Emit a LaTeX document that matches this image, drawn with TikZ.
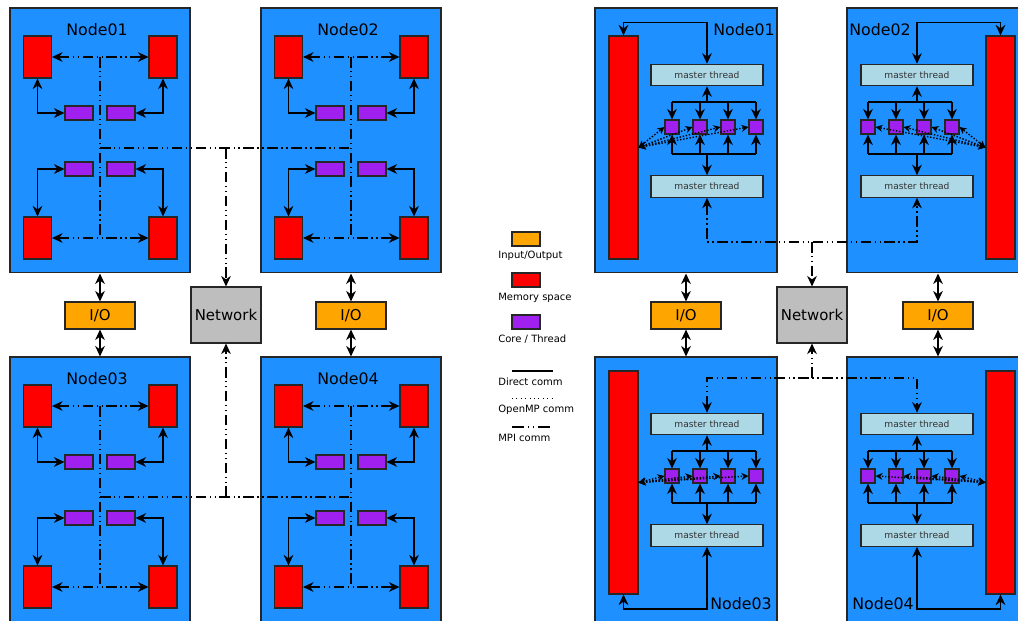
\documentclass[tikz,border=0pt]{standalone}
\usepackage{fontspec}
\setmainfont{DejaVu Sans}
\usepackage{tikz}
\usetikzlibrary{positioning,shapes,arrows.meta,calc}

\definecolor{nodeblue}{HTML}{1E90FF}
\definecolor{memred}{HTML}{FF0000}
\definecolor{corepurple}{HTML}{A020F0}
\definecolor{iogold}{HTML}{FFA500}
\definecolor{netgray}{HTML}{BEBEBE}
\definecolor{masterblue}{HTML}{ADD8E6}

\begin{document}
\begin{tikzpicture}[x=0.02cm, y=-0.02cm,
	>={Stealth[length=6pt,width=5.5pt]},
	box/.style={draw=black!85, line width=0.6pt, inner sep=0pt, rectangle},
	hostbox/.style={box, fill=nodeblue, minimum width=3.6cm, minimum height=5.3cm},
	hostboxR/.style={box, fill=nodeblue, minimum width=3.64cm, minimum height=5.3cm},
	mem/.style={box, fill=memred, minimum width=0.56cm, minimum height=0.84cm},
	memtall/.style={box, fill=memred, minimum width=0.58cm, minimum height=4.46cm},
	core/.style={box, fill=corepurple, minimum width=0.56cm, minimum height=0.28cm},
	thread/.style={box, fill=corepurple, minimum width=0.28cm, minimum height=0.28cm},
	master/.style={box, fill=masterblue, minimum width=2.24cm, minimum height=0.43cm, font=\fontsize{5.2}{6}\selectfont, text=black!80},
	io/.style={box, fill=iogold, minimum width=1.4cm, minimum height=0.54cm, font=\fontsize{8.5}{9}\selectfont},
	net/.style={box, fill=netgray, minimum width=1.4cm, minimum height=1.12cm, font=\fontsize{8.5}{9}\selectfont},
	title/.style={inner sep=0pt, font=\fontsize{9}{10}\selectfont},
	legtext/.style={inner sep=0pt, anchor=west, font=\fontsize{5.7}{6}\selectfont},
	direct/.style={draw=black, line width=0.85pt},
	omp/.style={draw=black, line width=0.8pt, densely dotted, >={Stealth[length=4pt,width=4pt,open]}},
	mpi/.style={draw=black, line width=0.8pt, dash pattern=on 6pt off 2pt on 0.8pt off 2pt on 0.8pt off 2pt}]

	\useasboundingbox (0,0) rectangle (1018,621);

	\foreach \n/\ox/\oy in {1/0/0,2/251/0,3/0/349,4/251/349}{
		\begin{scope}[shift={(\ox,\oy)}]
		\node[hostbox] (lhost\n) at (100,140.5) {};
		\node[title] (ltitle\n) at (97,30) {Node0\n};
		\node[mem] (lma\n) at (37.5,57) {};
		\node[mem] (lmb\n) at (163,57) {};
		\node[mem] (lmc\n) at (37.5,238) {};
		\node[mem] (lmd\n) at (163,238) {};
		\node[core] (lca\n) at (79,113) {};
		\node[core] (lcb\n) at (121,113) {};
		\node[core] (lcc\n) at (79,169) {};
		\node[core] (lcd\n) at (121,169) {};
		\coordinate (ltop\n) at (100,57);
		\coordinate (lmid\n) at (100,148);
		\coordinate (lbot\n) at (100,238);

		\draw[direct,<->] (lma\n.south) |- (lca\n.west);
		\draw[direct,<->] (lmb\n.south) |- (lcb\n.east);
		\draw[direct,<->] (lmc\n.north) |- (lcc\n.west);
		\draw[direct,<->] (lmd\n.north) |- (lcd\n.east);

		\draw[mpi] (ltop\n) -- (lbot\n);
		\draw[mpi,<->] (lma\n.east) -- (lmb\n.west);
		\draw[mpi,<->] (lmc\n.east) -- (lmd\n.west);
		\end{scope}
	}

	\node[net] (netL) at (226,315) {Network};
	\node[io] (lio1) at (100,315.5) {I/O};
	\node[io] (lio2) at (351,315.5) {I/O};

	\draw[direct,<->] (lhost1.south) -- (lio1.north);
	\draw[direct,<->] (lio1.south) -- (lhost3.north);
	\draw[direct,<->] (lhost2.south) -- (lio2.north);
	\draw[direct,<->] (lio2.south) -- (lhost4.north);

	\draw[mpi] (lmid1) -- (lmid2);
	\draw[mpi] (lmid3) -- (lmid4);
	\draw[mpi,->] (lmid1 -| netL.north) -- (netL.north);
	\draw[mpi,->] (lmid3 -| netL.south) -- (netL.south);

	\foreach \n/\ox/\oy/\s/\ry/\ra/\sa/\la in {1/686/0/1/147.5/east/west/west,2/938/0/-1/147.5/west/east/east,3/686/349/1/133.5/east/west/west,4/938/349/-1/133.5/west/east/east}{
		\begin{scope}[shift={(\ox,\oy)}, xscale=\s]
		\node[hostboxR] (rhost\n) at (0,140.5) {};
		\node[memtall] (rmem\n) at (-62.5,\ry) {};
		\node[master] (rmt\n) at (21,75) {master thread};
		\node[master] (rmb\n) at (21,186.5) {master thread};
		\foreach \k/\x in {1/-14,2/14,3/42,4/70}
			\node[thread] (rth\n\k) at (\x,127) {};
		\coordinate (rbt\n) at (21,102);
		\coordinate (rbb\n) at (21,154);

		\draw[direct,->] (rbt\n) -- (rmt\n.south);
		\draw[direct,->] (rbb\n) -- (rmb\n.north);
		\draw[direct] (rth\n1.north |- rbt\n) -- (rth\n4.north |- rbt\n);
		\draw[direct] (rth\n1.south |- rbb\n) -- (rth\n4.south |- rbb\n);
		\foreach \k in {1,...,4}{
			\draw[direct,->] (rth\n\k.north |- rbt\n) -- (rth\n\k.north);
			\draw[direct,->] (rth\n\k.south |- rbb\n) -- (rth\n\k.south);
			\draw[omp,<->] (rmem\n.\ra) -- (rth\n\k.\sa);
		}

		\ifnum\n<3
			\draw[direct,<->] (rmt\n.north) -- ++(0,-41) -| (rmem\n.north);
			\node[title, anchor=\la] (rtitle\n) at (27,30) {Node0\n};
		\else
			\draw[direct,<->] (rmb\n.south) -- ++(0,62) -| (rmem\n.south);
			\node[title, anchor=\la] (rtitle\n) at (24,255) {Node0\n};
		\fi
		\end{scope}
	}

	\node[net] (netR) at (812,315) {Network};
	\node[io] (rio1) at (686,315.5) {I/O};
	\node[io] (rio2) at (938,315.5) {I/O};

	\draw[direct,<->] (rhost1.south) -- (rio1.north);
	\draw[direct,<->] (rio1.south) -- (rhost3.north);
	\draw[direct,<->] (rhost2.south) -- (rio2.north);
	\draw[direct,<->] (rio2.south) -- (rhost4.north);

	\coordinate (rmpiA) at (812,242);
	\coordinate (rmpiB) at (812,378);
	\draw[mpi,<->] (rmb1.south) |- (rmpiA) -| (rmb2.south);
	\draw[mpi,->] (rmpiA) -- (netR.north);
	\draw[mpi,<->] (rmt3.north) |- (rmpiB) -| (rmt4.north);
	\draw[mpi,->] (rmpiB) -- (netR.south);

	\node[core, fill=iogold] (kio) at (526,239) {};
	\node[legtext] (kiot) at (498,256) {Input/Output};
	\node[core, fill=memred] (kmem) at (526,280) {};
	\node[legtext] (kmemt) at (498,298) {Memory space};
	\node[core] (kcore) at (526,322) {};
	\node[legtext] (kcoret) at (498,339) {Core / Thread};

	\coordinate (kda) at (512,371);
	\coordinate (kdb) at (553,371);
	\coordinate (koa) at (512,398);
	\coordinate (kob) at (553,398);
	\coordinate (kma) at (512,427);
	\coordinate (kmb) at (553,427);
	\draw[direct] (kda) -- (kdb);
	\draw[draw=black, line width=0.5pt, dotted] (koa) -- (kob);
	\draw[mpi, dash pattern=on 7pt off 2pt on 0.8pt off 2pt on 0.8pt off 2pt] (kma) -- (kmb);
	\node[legtext] (kdt) at (498,382) {Direct comm};
	\node[legtext] (kot) at (498,410) {OpenMP comm};
	\node[legtext] (kmt) at (498,438) {MPI comm};

\end{tikzpicture}
\end{document}
